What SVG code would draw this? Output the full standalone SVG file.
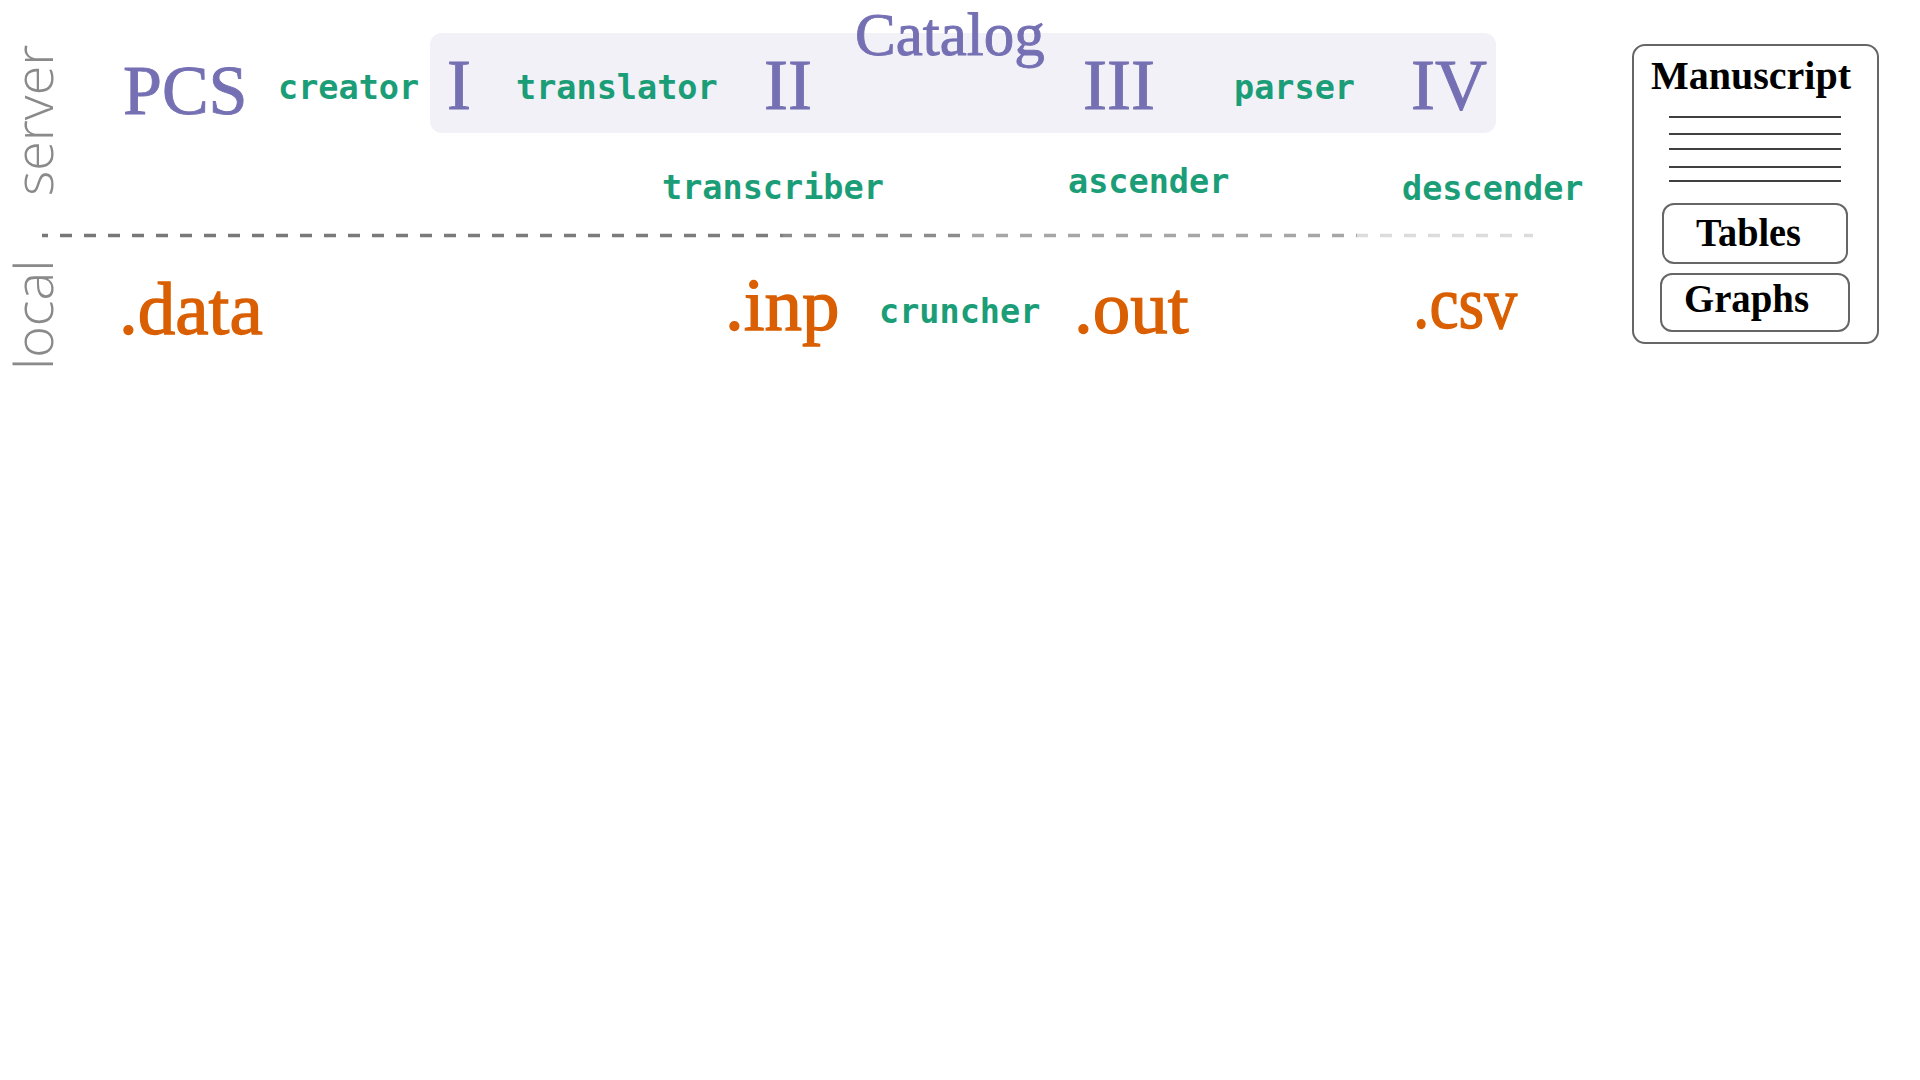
<svg xmlns="http://www.w3.org/2000/svg" width="1920" height="1080" viewBox="0 0 1920 1080">
<style>
.lane{font-family:"Open Sans","DejaVu Sans",sans-serif;font-weight:300;font-size:54px;fill:#8a8a8a}
.roman{font-family:"Liberation Serif","Times New Roman",serif;fill:#7570b3;stroke:#7570b3;stroke-width:0.9}
.tool{font-family:"DejaVu Sans Mono","Liberation Mono",monospace;font-weight:bold;font-size:33.5px;fill:#1b9e77}
.file{font-family:"Liberation Serif","Times New Roman",serif;font-size:75px;fill:#d95f02;stroke:#d95f02;stroke-width:1.3}
.ms{font-family:"Liberation Serif","Times New Roman",serif;font-weight:bold;font-size:40px;fill:#000}
.box{fill:#fff;stroke:#666;stroke-width:2}
.rule{stroke:#000;stroke-width:1.6}
</style>
<defs>
<linearGradient id="fade" gradientUnits="userSpaceOnUse" x1="42" y1="0" x2="1533" y2="0">
<stop offset="0" stop-color="#777"/>
<stop offset="0.497" stop-color="#7d7d7d"/>
<stop offset="0.497" stop-color="#8c8c8c"/>
<stop offset="0.624" stop-color="#8c8c8c"/>
<stop offset="0.624" stop-color="#a6a6a6"/>
<stop offset="0.882" stop-color="#a6a6a6"/>
<stop offset="0.882" stop-color="#dcdcdc"/>
<stop offset="1" stop-color="#dcdcdc"/>
</linearGradient>
</defs>
<rect width="1920" height="1080" fill="#fff"/>

<g id="lanes">
<text class="lane" transform="translate(53,196) rotate(-90)">server</text>
<text class="lane" transform="translate(53,370) rotate(-90)">local</text>
</g>

<g id="connectors">
<line x1="42" y1="235.5" x2="1533" y2="235.5" stroke="url(#fade)" stroke-width="3.5" stroke-dasharray="12 12" stroke-dashoffset="6"/>
</g>

<g id="catalog">
<rect x="430" y="33" width="1066" height="100" rx="12" fill="#f1f1f7"/>
<text class="roman" x="855" y="55" font-size="61">Catalog</text>
</g>

<g id="pcs"><text class="roman" x="123" y="114" font-size="70">PCS</text></g>
<g id="stage-1"><text class="roman" x="447" y="109" font-size="72">I</text></g>
<g id="stage-2"><text class="roman" x="764" y="109" font-size="72">II</text></g>
<g id="stage-3"><text class="roman" x="1083" y="109" font-size="72">III</text></g>
<g id="stage-4"><text class="roman" x="1411" y="109" font-size="72">IV</text></g>

<g id="creator"><text class="tool" x="278" y="99">creator</text></g>
<g id="translator"><text class="tool" x="516" y="99">translator</text></g>
<g id="parser"><text class="tool" x="1234" y="99">parser</text></g>
<g id="transcriber"><text class="tool" x="662" y="199">transcriber</text></g>
<g id="ascender"><text class="tool" x="1068" y="193">ascender</text></g>
<g id="descender"><text class="tool" x="1402" y="200">descender</text></g>
<g id="cruncher"><text class="tool" x="879" y="323">cruncher</text></g>

<g id="file-data"><text class="file" x="119" y="334">.data</text></g>
<g id="file-inp"><text class="file" x="725" y="330">.inp</text></g>
<g id="file-out"><text class="file" x="1074" y="333">.out</text></g>
<g id="file-csv"><text class="file" x="1413" y="328" font-size="67" textLength="104" lengthAdjust="spacingAndGlyphs">.csv</text></g>

<g id="manuscript">
<rect class="box" x="1633" y="45" width="245" height="298" rx="12"/>
<text class="ms" x="1651" y="89">Manuscript</text>
<line class="rule" x1="1669" y1="117" x2="1841" y2="117"/>
<line class="rule" x1="1669" y1="134" x2="1841" y2="134"/>
<line class="rule" x1="1669" y1="149" x2="1841" y2="149"/>
<line class="rule" x1="1669" y1="167" x2="1841" y2="167"/>
<line class="rule" x1="1669" y1="181" x2="1841" y2="181"/>
<g id="tables">
<rect class="box" x="1663" y="204" width="184" height="59" rx="11"/>
<text class="ms" x="1696" y="246" textLength="105" lengthAdjust="spacingAndGlyphs">Tables</text>
</g>
<g id="graphs">
<rect class="box" x="1661" y="274" width="188" height="57" rx="11"/>
<text class="ms" x="1684" y="312" textLength="125" lengthAdjust="spacingAndGlyphs">Graphs</text>
</g>
</g>
</svg>
